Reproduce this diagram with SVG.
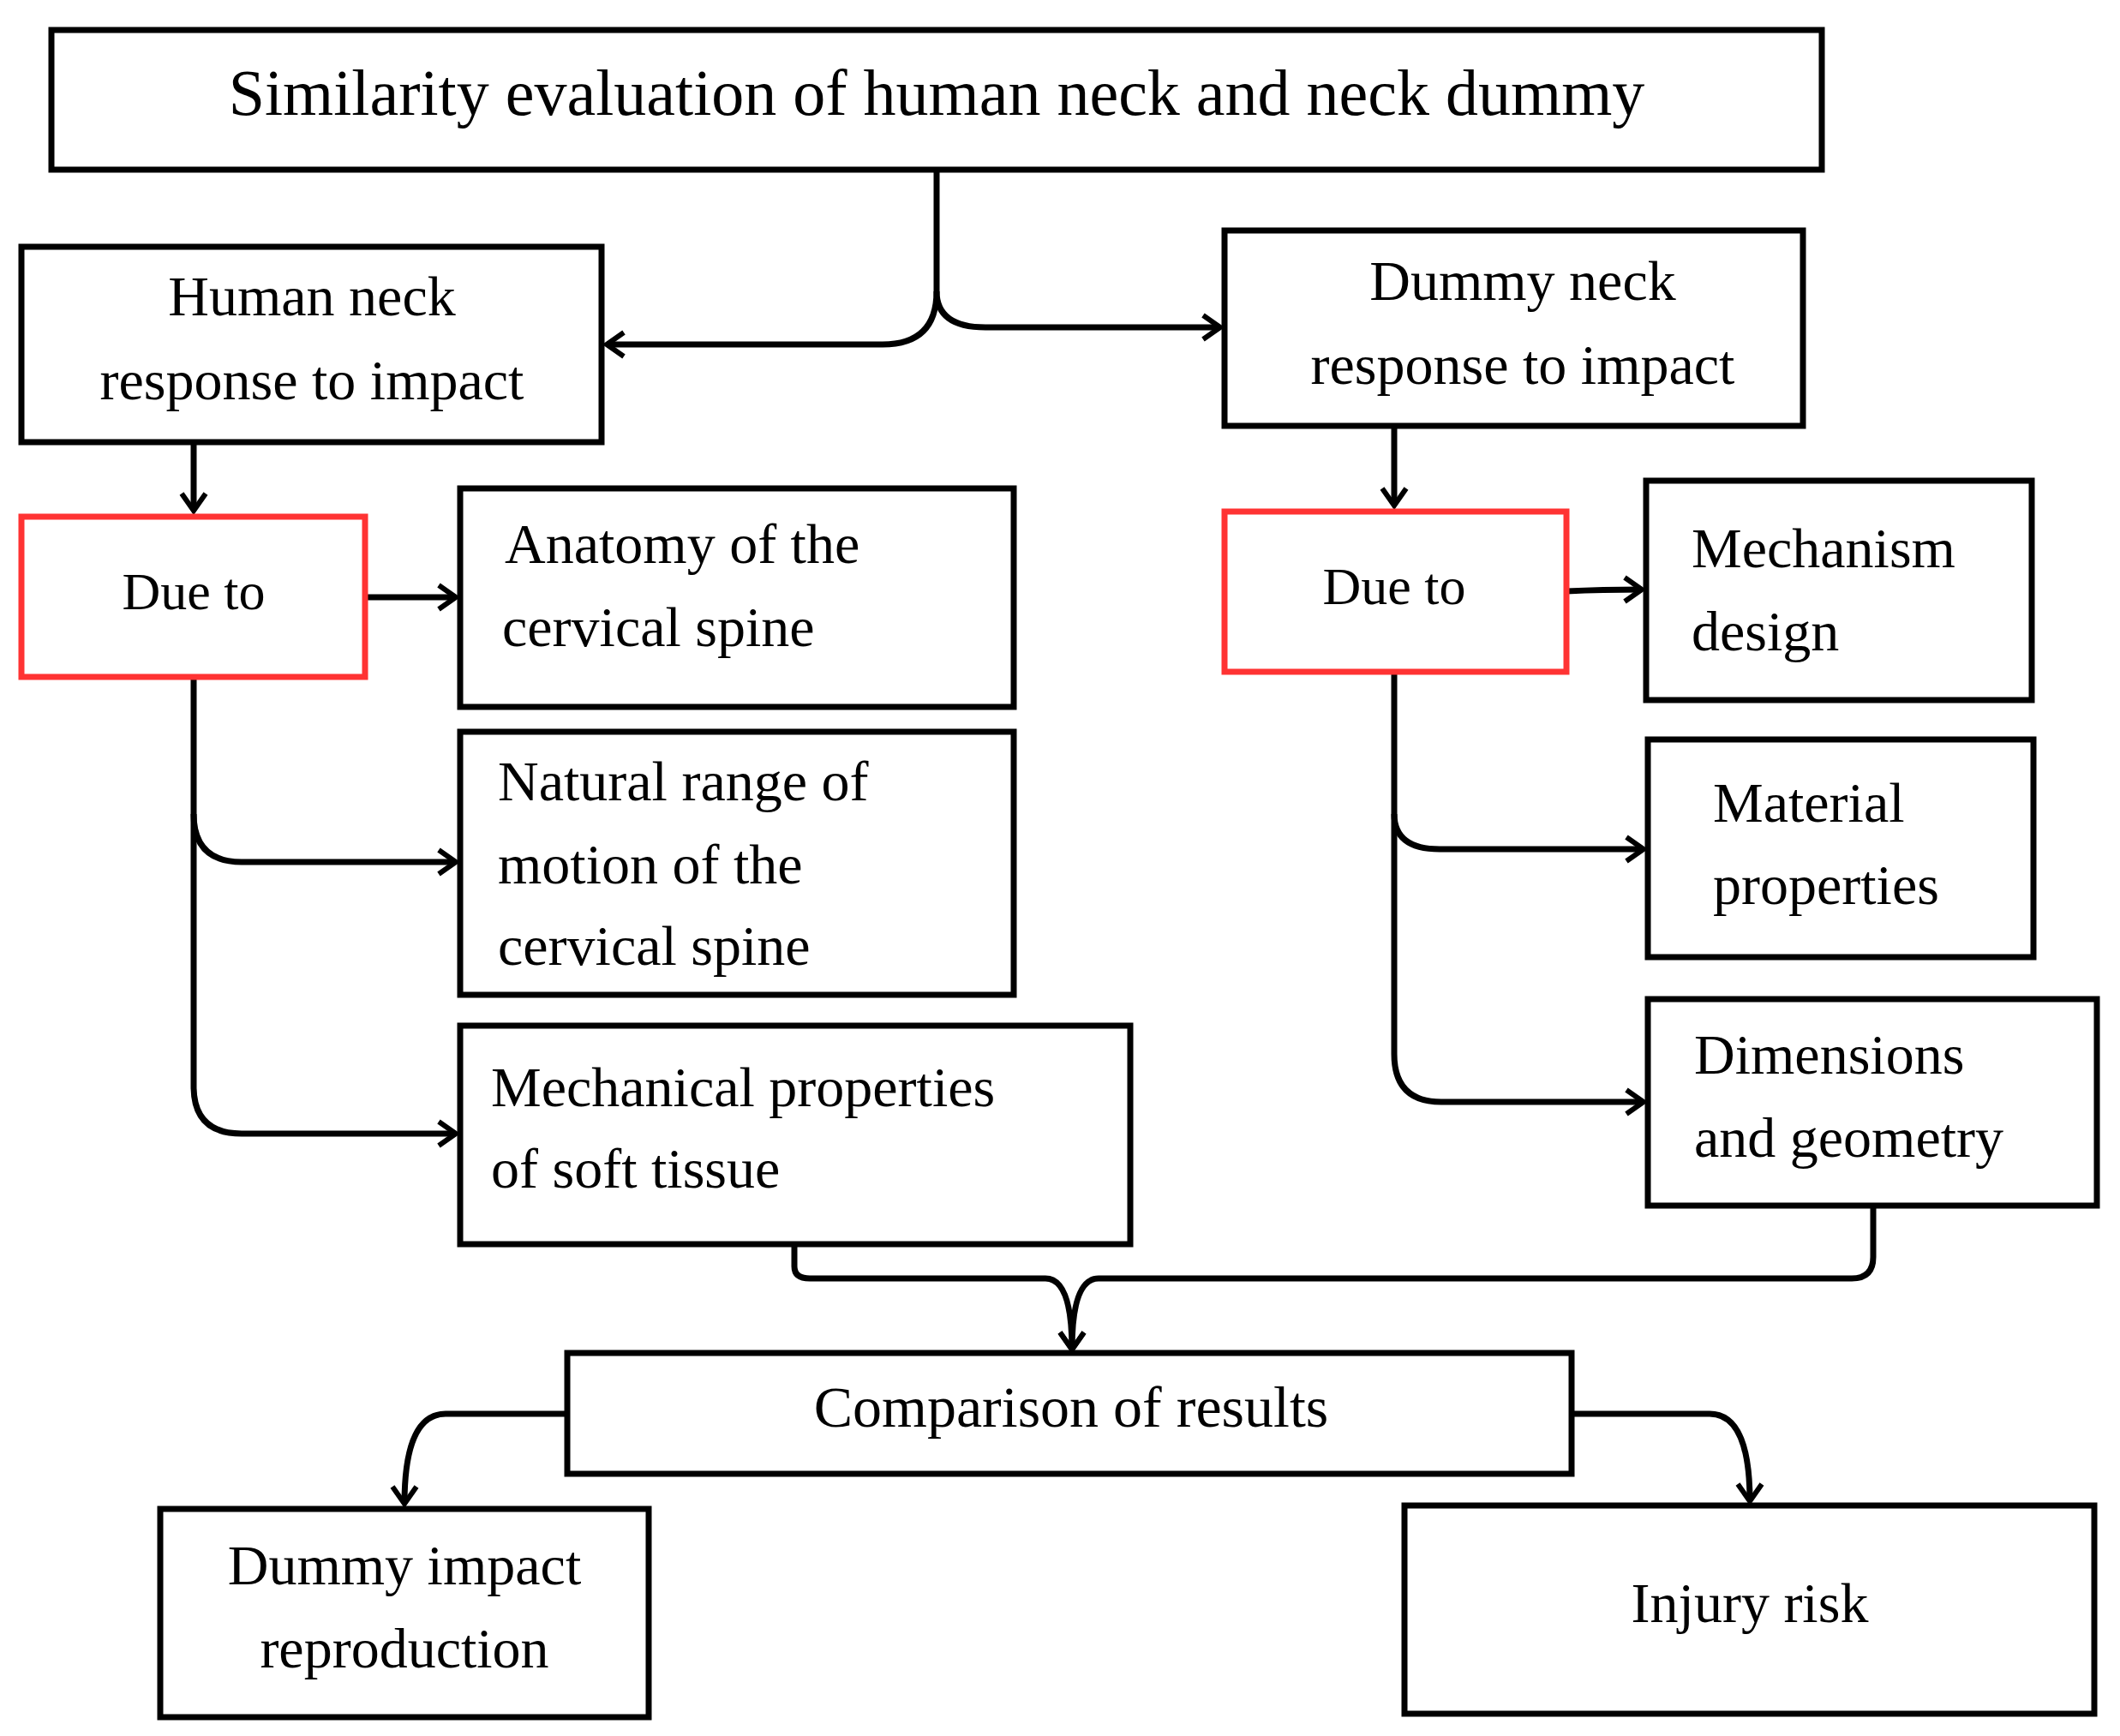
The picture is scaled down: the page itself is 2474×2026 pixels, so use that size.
<svg xmlns="http://www.w3.org/2000/svg" width="2474" height="2026" viewBox="0 0 2474 2026">
<style>
.b{fill:#fff;stroke:#000;stroke-width:7}
.r{fill:#fff;stroke:#f33;stroke-width:7}
text{font-family:"Liberation Serif",serif;font-size:66px;fill:#000}
.c{text-anchor:middle}
#conn path{fill:none;stroke:#000;stroke-width:7;marker-end:url(#a)}
</style>
<defs><marker id="a" markerUnits="userSpaceOnUse" markerWidth="30" markerHeight="34" refX="24" refY="17" orient="auto"><path d="M4,3 L24,17 L4,31" fill="none" stroke="#000" stroke-width="6"/></marker></defs>
<rect width="2474" height="2026" fill="#fff"/>
<g id="conn">
<path d="M1093,198 V340 Q1093,402 1030,402 H708"/>
<path d="M1093,340 Q1093,382 1150,382 H1424"/>
<path d="M226,516 V596"/>
<path d="M426,697 H532"/>
<path d="M226,790 V950 Q226,1006 282,1006 H532"/>
<path d="M226,950 V1268 Q226,1323 282,1323 H532"/>
<path d="M1627,497 V590"/>
<path d="M1828,690 Q1870,688 1916,688"/>
<path d="M1627,784 V950 Q1627,991 1680,991 H1918"/>
<path d="M1627,950 V1230 Q1627,1286 1682,1286 H1918"/>
<path d="M927,1452 V1478 Q927,1492 945,1492 H1220 Q1251,1492 1251,1575"/>
<path d="M2186,1407 V1467 Q2186,1492 2161,1492 H1282 Q1251,1492 1251,1575" />
<path d="M662,1650 H520 Q472,1650 472,1755"/>
<path d="M1834,1650 H1995 Q2042,1650 2042,1752"/>
</g>
<g id="top"><rect class="b" x="60" y="35" width="2066" height="163"/><text class="c" x="1093" y="134" style="font-size:76px">Similarity evaluation of human neck and neck dummy</text></g>
<g id="human"><rect class="b" x="25" y="288" width="677" height="228"/><text class="c" x="364" y="368">Human neck</text><text class="c" x="364" y="466">response to impact</text></g>
<g id="dummy"><rect class="b" x="1429" y="269" width="675" height="228"/><text class="c" x="1777" y="350">Dummy neck</text><text class="c" x="1777" y="448">response to impact</text></g>
<g id="dueL"><rect class="r" x="25" y="603" width="401" height="187"/><text class="c" x="226" y="711" style="font-size:62px">Due to</text></g>
<g id="anat"><rect class="b" x="537" y="570" width="646" height="255"/><text x="589" y="657">Anatomy  of  the</text><text x="586" y="754">cervical spine</text></g>
<g id="nat"><rect class="b" x="537" y="854" width="646" height="307"/><text x="581" y="934">Natural range of</text><text x="581" y="1031">motion    of    the</text><text x="581" y="1126">cervical spine</text></g>
<g id="mech"><rect class="b" x="537" y="1197" width="782" height="255"/><text x="573" y="1291">Mechanical  properties</text><text x="573" y="1386">of soft tissue</text></g>
<g id="dueR"><rect class="r" x="1429" y="597" width="399" height="187"/><text class="c" x="1627" y="705" style="font-size:62px">Due to</text></g>
<g id="mechd"><rect class="b" x="1921" y="561" width="450" height="256"/><text x="1974" y="662">Mechanism</text><text x="1974" y="759">design</text></g>
<g id="mat"><rect class="b" x="1923" y="863" width="450" height="254"/><text x="1999" y="959">Material</text><text x="1999" y="1055">properties</text></g>
<g id="dim"><rect class="b" x="1923" y="1166" width="524" height="241"/><text x="1977" y="1253">Dimensions</text><text x="1977" y="1350">and geometry</text></g>
<g id="comp"><rect class="b" x="662" y="1579" width="1172" height="141"/><text class="c" x="1250" y="1665" style="font-size:68px">Comparison of results</text></g>
<g id="dir"><rect class="b" x="187" y="1761" width="570" height="243"/><text class="c" x="472" y="1849">Dummy impact</text><text class="c" x="472" y="1946">reproduction</text></g>
<g id="inj"><rect class="b" x="1639" y="1757" width="805" height="243"/><text class="c" x="2042" y="1893">Injury risk</text></g>
</svg>
